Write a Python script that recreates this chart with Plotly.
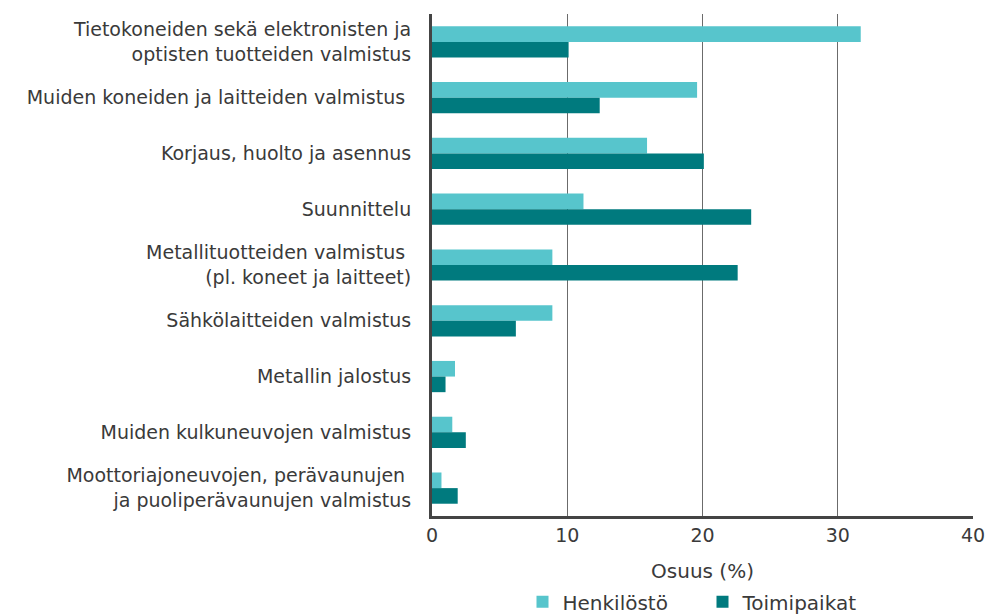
import plotly.graph_objects as go

# Toimialat (ylhäältä alas) ja osuudet prosentteina
categories = [
    "Tietokoneiden sekä elektronisten ja<br>optisten tuotteiden valmistus",
    "Muiden koneiden ja laitteiden valmistus\u00a0",
    "Korjaus, huolto ja asennus",
    "Suunnittelu",
    "Metallituotteiden valmistus\u00a0<br>(pl. koneet ja laitteet)",
    "Sähkölaitteiden valmistus",
    "Metallin jalostus",
    "Muiden kulkuneuvojen valmistus",
    "Moottoriajoneuvojen, perävaunujen\u00a0<br>ja puoliperävaunujen valmistus",
]
henkilosto = [31.7, 19.6, 15.9, 11.2, 8.9, 8.9, 1.7, 1.5, 0.7]
toimipaikat = [10.1, 12.4, 20.1, 23.6, 22.6, 6.2, 1.0, 2.5, 1.9]
x_ticks = [0, 10, 20, 30, 40]

text_color = "#3a3a3a"
font_family = "DejaVu Sans, sans-serif"

fig = go.Figure()
fig.add_trace(go.Bar(
    y=categories, x=henkilosto, name="Henkilöstö", orientation="h",
    marker=dict(color="#57C5CC", line=dict(width=0)),
))
fig.add_trace(go.Bar(
    y=categories, x=toimipaikat, name="Toimipaikat", orientation="h",
    marker=dict(color="#007A7E", line=dict(width=0)),
))

fig.update_layout(
    width=988, height=615,
    margin=dict(l=432, r=15, t=14, b=99, autoexpand=False),
    paper_bgcolor="white", plot_bgcolor="white",
    barmode="group", bargap=0.44, bargroupgap=0,
    font=dict(family=font_family, size=19, color=text_color),
    showlegend=True,
    legend=dict(
        orientation="h", x=0.5, xanchor="center",
        y=-0.132, yanchor="top",
        traceorder="normal", font=dict(size=20, color=text_color),
        itemwidth=30, entrywidth=135,
    ),
    xaxis=dict(
        range=[0, 40], tickvals=x_ticks, ticktext=[str(v) for v in x_ticks],
        showgrid=True, gridcolor="#6b6b6b", gridwidth=1,
        zeroline=False, showline=True, linecolor="#444444", linewidth=3,
        ticks="", tickfont=dict(size=19, color=text_color),
        title=dict(text="Osuus (%)", font=dict(size=20, color=text_color), standoff=20),
        fixedrange=True,
    ),
    yaxis=dict(
        autorange="reversed", showgrid=False, zeroline=False,
        showline=True, linecolor="#444444", linewidth=3,
        ticks="", ticklabelstandoff=14,
        tickfont=dict(size=19, color=text_color),
    ),
)

fig.write_html("out.html")
